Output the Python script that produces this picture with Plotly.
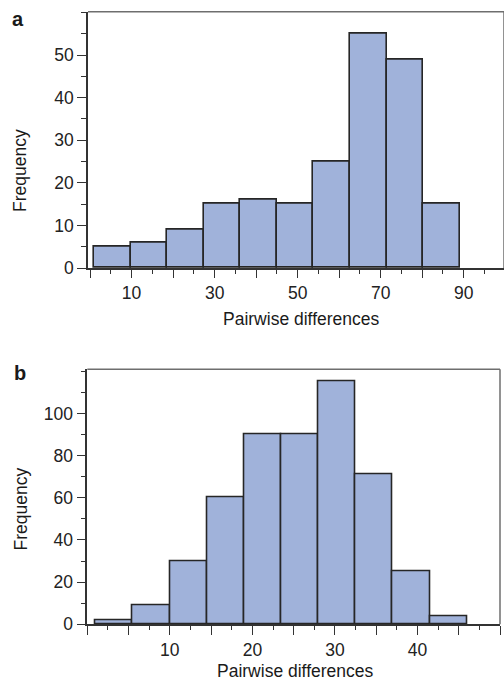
import plotly.graph_objects as go

# ---------------- data ----------------
# Panel a
edges_a = [1, 9.8, 18.6, 27.4, 36.2, 45, 53.8, 62.6, 71.4, 80.2, 89]
counts_a = [5, 6, 9, 15, 16, 15, 25, 55, 49, 15]
xtick_vals_a = [0, 10, 20, 30, 40, 50, 60, 70, 80, 90, 100]
xtick_text_a = ["", "10", "", "30", "", "50", "", "70", "", "90", ""]
ytick_vals_a = [0, 10, 20, 30, 40, 50]
ytick_text_a = ["0", "10", "20", "30", "40", "50"]

# Panel b
edges_b = [1, 5.5, 10, 14.5, 19, 23.5, 28, 32.5, 37, 41.5, 46]
counts_b = [2, 9, 30, 60, 90, 90, 115, 71, 25, 4]
xtick_vals_b = [0, 5, 10, 15, 20, 25, 30, 35, 40, 45, 50]
xtick_text_b = ["", "", "10", "", "20", "", "30", "", "40", "", ""]
ytick_vals_b = [0, 20, 40, 60, 80, 100]
ytick_text_b = ["0", "20", "40", "60", "80", "100"]

# ---------------- style ----------------
W, H = 504, 680
BAR_FILL = "#A0B2DA"
BAR_LINE = "#262626"
AXIS_COL = "#333333"
FRAME_COL = "#6E6E6E"
TXT = "#222222"
FONT = "Liberation Sans, Arial, Helvetica, sans-serif"
TICK_SIZE = 17.5
TITLE_SIZE = 17.5


def centers(edges):
    return [(edges[i] + edges[i + 1]) / 2 for i in range(len(edges) - 1)]


def widths(edges):
    return [edges[i + 1] - edges[i] for i in range(len(edges) - 1)]


fig = go.Figure()
fig.add_trace(go.Bar(x=centers(edges_a), y=counts_a, width=widths(edges_a),
                     marker=dict(color=BAR_FILL, line=dict(color=BAR_LINE, width=1.6)),
                     xaxis="x", yaxis="y", showlegend=False, hoverinfo="x+y"))
fig.add_trace(go.Bar(x=centers(edges_b), y=counts_b, width=widths(edges_b),
                     marker=dict(color=BAR_FILL, line=dict(color=BAR_LINE, width=1.6)),
                     xaxis="x2", yaxis="y2", showlegend=False, hoverinfo="x+y"))


def px_x(p):
    return p / W


def px_y(p):
    return 1 - p / H


common_axis = dict(
    showline=True, linecolor=AXIS_COL, linewidth=1.5,
    ticks="outside", tickcolor=AXIS_COL, tickwidth=1.3,
    showgrid=False, zeroline=False, fixedrange=True, automargin=False,
    tickfont=dict(family=FONT, size=TICK_SIZE, color=TXT),
    tickmode="array",
)

fig.update_layout(
    width=W, height=H,
    margin=dict(l=0, r=0, t=0, b=0, autoexpand=False),
    paper_bgcolor="white", plot_bgcolor="white",
    bargap=0,
    font=dict(family=FONT, color=TXT),
    xaxis=dict(common_axis, domain=[px_x(88), 1.0], range=[-0.5, 99.7],
               anchor="y", tickvals=xtick_vals_a, ticktext=xtick_text_a, ticklen=8,
               minor=dict(ticks="outside", dtick=5, tick0=0, ticklen=4,
                          tickcolor=AXIS_COL, tickwidth=1.3)),
    yaxis=dict(common_axis, domain=[px_y(268), px_y(11.7)], range=[0, 60.2],
               anchor="x", tickvals=ytick_vals_a, ticktext=ytick_text_a, ticklen=9,
               minor=dict(ticks="outside", dtick=5, tick0=0, ticklen=5,
                          tickcolor=AXIS_COL, tickwidth=1.3)),
    xaxis2=dict(common_axis, domain=[px_x(87.3), px_x(500)], range=[0, 50],
                anchor="y2", tickvals=xtick_vals_b, ticktext=xtick_text_b, ticklen=9,
                minor=dict(ticks="outside", dtick=2.5, tick0=0, ticklen=4,
                           tickcolor=AXIS_COL, tickwidth=1.3)),
    yaxis2=dict(common_axis, domain=[px_y(624.3), px_y(369.3)], range=[0, 120.9],
                anchor="x2", tickvals=ytick_vals_b, ticktext=ytick_text_b, ticklen=9,
                minor=dict(ticks="outside", dtick=10, tick0=0, ticklen=5,
                           tickcolor=AXIS_COL, tickwidth=1.3)),
)

# frame (top / right lines, lighter grey)
for xr, yr in (("x", "y"), ("x2", "y2")):
    fig.add_shape(type="line", xref=f"{xr} domain", yref=f"{yr} domain",
                  x0=0, x1=1, y0=1, y1=1, line=dict(color=FRAME_COL, width=1.5))
    fig.add_shape(type="line", xref=f"{xr} domain", yref=f"{yr} domain",
                  x0=1, x1=1, y0=0, y1=1, line=dict(color=FRAME_COL, width=1.5))

# titles & panel labels
ann = [
    dict(text="<b>a</b>", x=px_x(18), y=px_y(18.5), size=20, angle=0),
    dict(text="<b>b</b>", x=px_x(19.5), y=px_y(372.5), size=20, angle=0),
    dict(text="Frequency", x=px_x(20), y=px_y(171), size=TITLE_SIZE, angle=-90),
    dict(text="Frequency", x=px_x(20.5), y=px_y(509), size=TITLE_SIZE, angle=-90),
    dict(text="Pairwise differences", x=px_x(301.5), y=px_y(319), size=TITLE_SIZE, angle=0),
    dict(text="Pairwise differences", x=px_x(295), y=px_y(671), size=TITLE_SIZE, angle=0),
]
for a in ann:
    fig.add_annotation(text=a["text"], x=a["x"], y=a["y"], xref="paper", yref="paper",
                       xanchor="center", yanchor="middle", showarrow=False,
                       textangle=a["angle"],
                       font=dict(family=FONT, size=a["size"], color="#1a1a1a"))

fig.write_html("out.html", config={"displayModeBar": False},
               post_script="document.body.style.margin='0px';document.body.style.overflow='hidden';")
